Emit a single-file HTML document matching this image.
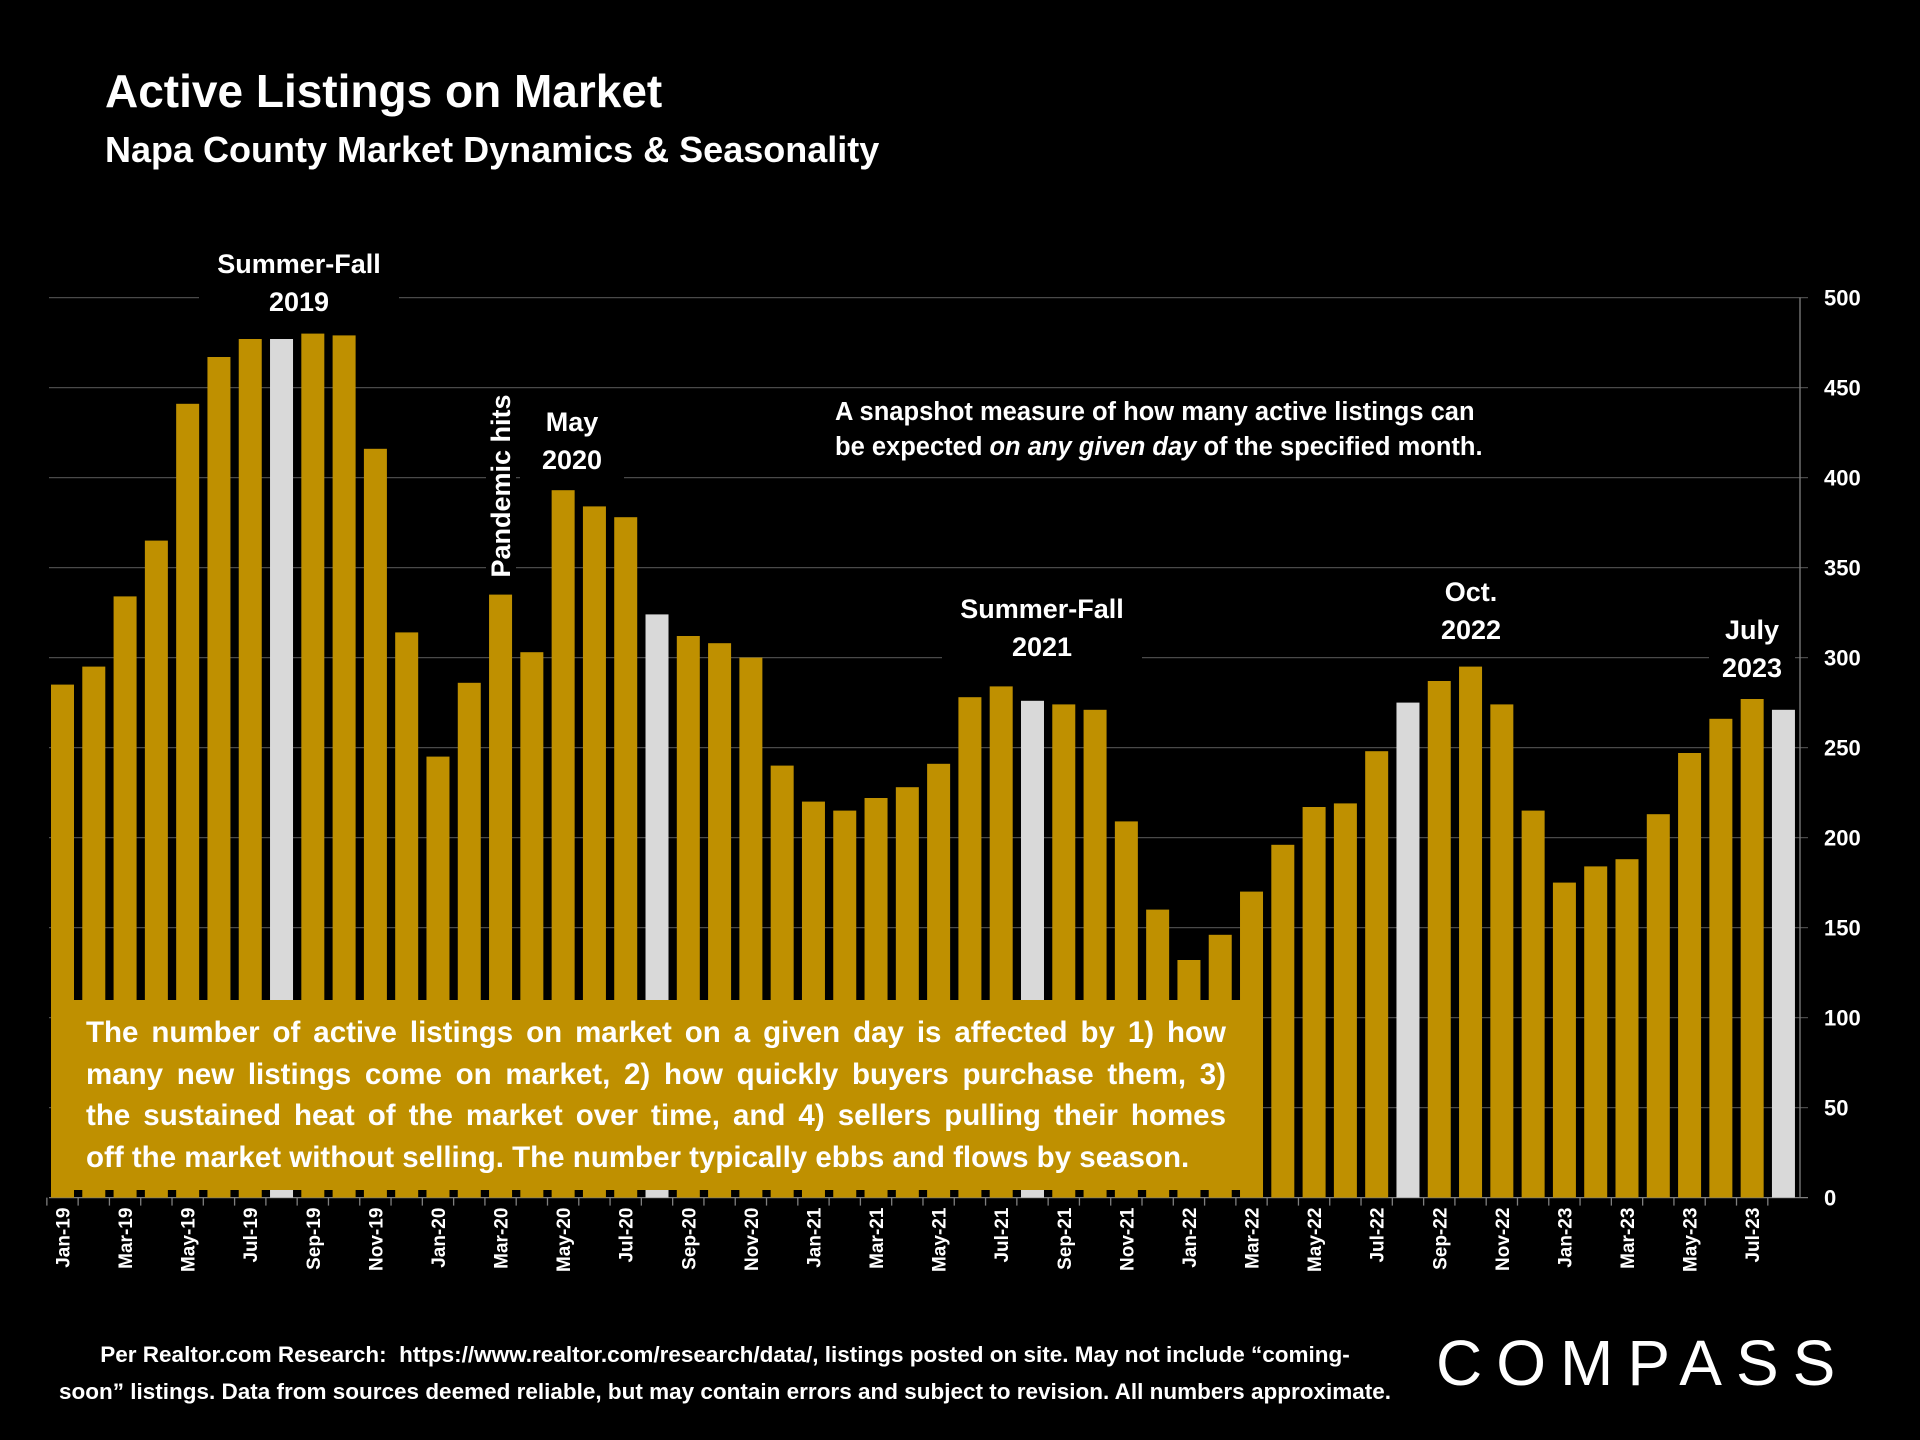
<!DOCTYPE html>
<html><head><meta charset="utf-8">
<style>
html,body{margin:0;padding:0;background:#000;}
body{width:1920px;height:1440px;overflow:hidden;position:relative;font-family:"Liberation Sans",sans-serif;color:#fff;}
.t{position:absolute;font-weight:bold;white-space:nowrap;}
.ann{position:absolute;font-weight:bold;text-align:center;background:#000;font-size:27px;line-height:38px;padding:0 6px;}
#box{position:absolute;left:51px;top:1000px;width:1210px;height:190px;background:#BF9000;box-sizing:border-box;padding:12px 35px 0 35px;font-weight:bold;font-size:29.5px;line-height:41.6px;}
#box div{text-align:justify;text-align-last:justify;white-space:nowrap;}
#box div.last{text-align-last:left;}
</style></head><body>
<div class="t" style="left:105px;top:64px;font-size:46px;">Active Listings on Market</div>
<div class="t" style="left:105px;top:129px;font-size:36px;">Napa County Market Dynamics &amp; Seasonality</div>

<svg id="chart" width="1920" height="1440" style="position:absolute;left:0;top:0"></svg>

<div class="ann" style="left:199px;top:245px;width:188px;">Summer-Fall<br>2019</div>
<div class="ann" style="left:486px;top:581px;width:190px;line-height:30px;transform:rotate(-90deg);transform-origin:0 0;padding:0;">Pandemic hits</div>
<div class="ann" style="left:520px;top:403px;width:92px;">May<br>2020</div>
<div class="ann" style="left:829px;top:395px;text-align:left;line-height:35px;font-size:25.5px;">A snapshot measure of how many active listings can<br>be expected <i>on any given day</i> of the specified month.</div>
<div class="ann" style="left:942px;top:590px;width:188px;">Summer-Fall<br>2021</div>
<div class="ann" style="left:1410px;top:573px;width:110px;">Oct.<br>2022</div>
<div class="ann" style="left:1709px;top:611px;width:86px;padding:0;">July<br>2023</div>

<div id="box">
<div>The number of active listings on market on a given day is affected by 1) how</div>
<div>many new listings come on market, 2) how quickly buyers purchase them, 3)</div>
<div>the sustained heat of the market over time, and 4) sellers pulling their homes</div>
<div class="last">off the market without selling. The number typically ebbs and flows by season.</div>
</div>

<div class="t" style="left:20px;top:1336px;width:1410px;text-align:center;font-size:22.5px;line-height:37px;">Per Realtor.com Research:&nbsp; https://www.realtor.com/research/data/, listings posted on site. May not include “coming-<br>soon” listings. Data from sources deemed reliable, but may contain errors and subject to revision. All numbers approximate.</div>
<div class="t" style="left:1436px;top:1326px;font-size:64px;font-weight:normal;letter-spacing:14px;">COMPASS</div>

<script>
const months = ["Jan","Feb","Mar","Apr","May","Jun","Jul","Aug","Sep","Oct","Nov","Dec"];
const categories = [];
for (let y = 19; y <= 23; y++) for (let m = 0; m < 12; m++) { if (y === 23 && m > 7) break; categories.push(months[m] + "-" + y); }
const values = [285,295,334,365,441,467,477,477,480,479,416,314,
245,286,335,303,393,384,378,324,312,308,300,240,
220,215,222,228,241,278,284,276,274,271,209,160,
132,146,170,196,217,219,248,275,287,295,274,215,
175,184,188,213,247,266,277,271];
const highlighted = ["Aug-19","Aug-20","Aug-21","Aug-22","Aug-23"];
const yTicks = [0,50,100,150,200,250,300,350,400,450,500];

const svg = document.getElementById('chart');
const NS = "http://www.w3.org/2000/svg";
const y0 = 1197.6, yTop = 297.6, xLeft = 49, xRight = 1800;
const x0 = 62.5, step = 31.29, bw = 23;
function yScale(v){ return y0 - (v/500)*(y0-yTop); }
function xScale(i){ return x0 + i*step; }
function mk(tag, attrs){ const e = document.createElementNS(NS, tag); for (const k in attrs) e.setAttribute(k, attrs[k]); svg.appendChild(e); return e; }

yTicks.forEach(t => {
  const yy = yScale(t);
  const g = mk('line', {x1:xLeft, x2:xRight+8, y1:yy, y2:yy, stroke: t===0 ? '#7f7f7f' : '#4a4a4a', 'stroke-width':1.3});
  
  
  const lb = mk('text', {x:1824, y:yy+8, fill:'#fff', 'font-size':22, 'font-weight':'bold', 'font-family':'Liberation Sans, sans-serif'});
  lb.textContent = t;
  
  
});
const ax = mk('line', {x1:xRight, x2:xRight, y1:yTop, y2:y0, stroke:'#7f7f7f', 'stroke-width':1.3});



categories.forEach((c, i) => {
  const v = values[i];
  const r = mk('rect', {x:xScale(i)-bw/2, y:yScale(v), width:bw, height:y0-yScale(v), fill: highlighted.includes(c) ? '#D9D9D9' : '#BF9000'});
  
  
  const tk = mk('line', {x1:xScale(i)-step/2, x2:xScale(i)-step/2, y1:y0, y2:y0+8, stroke:'#7f7f7f', 'stroke-width':1.3});
  
  
  if (i % 2 === 0) {
    const xx = xScale(i) + 7;
    const t = mk('text', {x:0, y:0, fill:'#fff', 'font-size':19, 'font-weight':'bold', 'font-family':'Liberation Sans, sans-serif', 'text-anchor':'end', transform:`translate(${xx},${y0+10}) rotate(-90)`});
    t.textContent = c;
    
    
  }
});
</script>
</body></html>
